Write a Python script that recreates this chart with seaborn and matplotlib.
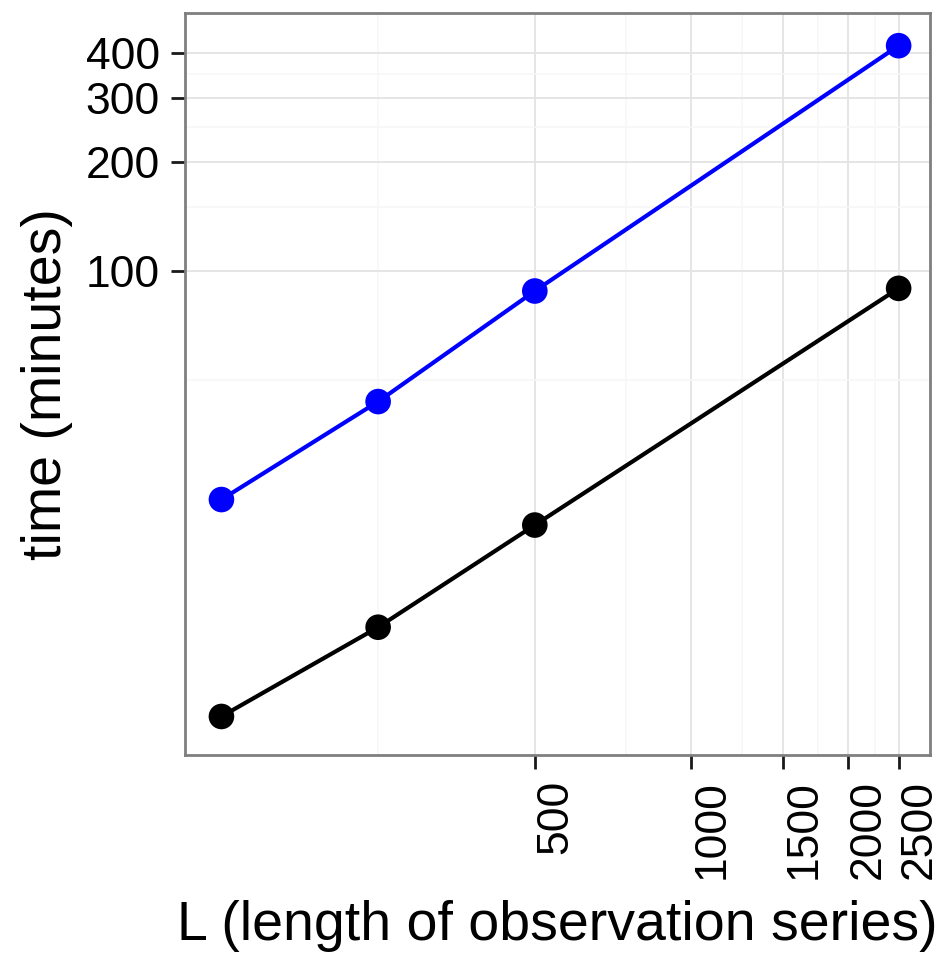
import matplotlib
matplotlib.use("Agg")
import matplotlib.pyplot as plt
import seaborn as sns
import pandas as pd
from matplotlib.ticker import FixedLocator, NullFormatter

# Data
L_values = [125, 250, 500, 2500]
time_blue = [23.4, 43.6, 88.0, 418.0]
time_black = [5.9, 10.4, 19.9, 89.5]
series_names = ["blue", "black"]
x_ticks = [500, 1000, 1500, 2000, 2500]
x_minor = [250, 750, 1250, 1750, 2250]
y_ticks = [100, 200, 300, 400]
y_minor = [50, 150, 250, 350]

df = pd.DataFrame({
    "L": L_values * 2,
    "time": time_blue + time_black,
    "series": [series_names[0]] * 4 + [series_names[1]] * 4,
})

sns.set_theme(style="white")
plt.rcParams["font.family"] = ["Liberation Sans", "DejaVu Sans"]
plt.rcParams["text.color"] = "black"
plt.rcParams["axes.labelcolor"] = "black"

fig = plt.figure(figsize=(9.43, 9.57), dpi=100)
ax = fig.add_axes([0.1962, 0.2111, 0.79, 0.7753])

palette = {"blue": "#0000FF", "black": "#000000"}
sns.lineplot(data=df, x="L", y="time", hue="series", palette=palette,
             linewidth=3, legend=False, ax=ax, zorder=3)
sns.scatterplot(data=df, x="L", y="time", hue="series", palette=palette,
                s=340, edgecolor="none", legend=False, ax=ax, zorder=4)

ax.set_xscale("log")
ax.set_yscale("log")
ax.set_xlim(106.4, 2872)
ax.set_ylim(4.62, 514.4)

ax.xaxis.set_major_locator(FixedLocator(x_ticks))
ax.xaxis.set_minor_locator(FixedLocator(x_minor))
ax.yaxis.set_major_locator(FixedLocator(y_ticks))
ax.yaxis.set_minor_locator(FixedLocator(y_minor))
ax.set_xticklabels([str(v) for v in x_ticks])
ax.set_yticklabels([str(v) for v in y_ticks])
ax.xaxis.set_minor_formatter(NullFormatter())
ax.yaxis.set_minor_formatter(NullFormatter())

ax.grid(True, which="major", color="#e5e5e5", linewidth=1.4, zorder=0)
ax.grid(True, which="minor", color="#f7f7f7", linewidth=1.2, zorder=0)
ax.set_axisbelow(True)

ax.tick_params(axis="both", which="major", length=10, width=2, color="#1a1a1a",
               labelsize=32, labelcolor="black", pad=8, direction="out",
               bottom=True, left=True)
ax.tick_params(axis="both", which="minor", length=0)
for lab in ax.get_xticklabels():
    lab.set_rotation(90)
    lab.set_va("top")
    lab.set_ha("left")

for sp in ax.spines.values():
    sp.set_color("#7f7f7f")
    sp.set_linewidth(2)

ax.set_xlabel("L (length of observation series)", fontsize=40, labelpad=15)
ax.set_ylabel("time (minutes)", fontsize=40, labelpad=9)

fig.savefig("out.png", dpi=100)
